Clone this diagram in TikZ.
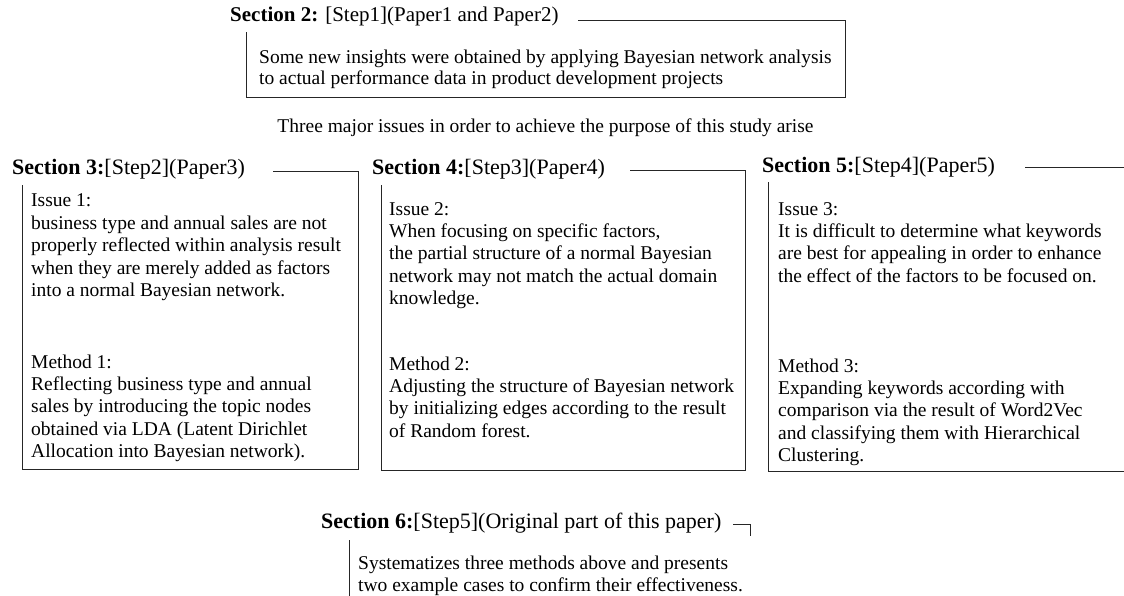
\documentclass[tikz,border=0pt]{standalone}
\usepackage{fontspec}
\setmainfont{Liberation Serif}
\newcommand\bodyfont{\fontsize{19.5}{22.4}\selectfont}
\newcommand\headfont{\fontsize{22}{25}\selectfont}
\tikzset{
  head/.style={anchor=base west, inner sep=0pt, font=\headfont},
  body/.style={anchor=base west, inner sep=0pt, font=\bodyfont},
  frame/.style={draw=black!85, line width=1pt},
}
\begin{document}
\begin{tikzpicture}[x=1pt, y=-1pt]
\useasboundingbox (0,0) rectangle (1124,596);

% Section 2 block
\node[head, font=\fontsize{21}{24}\selectfont] (t2) at (230,22) {\textbf{Section 2:} [Step1](Paper1 and Paper2)};
\node[body, font=\fontsize{19.5}{20.5}\selectfont] (b2) at (259,64) {\vtop{\hbox{Some new insights were obtained by applying Bayesian network analysis}\hbox{to actual performance data in product development projects}}};
\draw[frame] (578,21) -- (845,21) -- (845,98) -- (246,98) -- (246,32);

% Statement between the two rows
\node[anchor=base, inner sep=0pt, font=\bodyfont] (mid) at (545.5,133) {Three major issues in order to achieve the purpose of this study arise};

% Section 3 block
\node[head] (t3) at (12,175) {\textbf{Section 3:}[Step2](Paper3)};
\node[body] (i1) at (31,207) {\vtop{\hbox{Issue 1:}\hbox{business type and annual sales are not}\hbox{properly reflected within analysis result}\hbox{when they are merely added as factors}\hbox{into a normal Bayesian network.}}};
\node[body] (m1) at (31,368) {\vtop{\hbox{Method 1:}\hbox{Reflecting business type and annual}\hbox{sales by introducing the topic nodes}\hbox{obtained via LDA (Latent Dirichlet}\hbox{Allocation into Bayesian network).}}};
\draw[frame] (273,172) -- (358,172) -- (358,469) -- (22,469) -- (22,185);

% Section 4 block
\node[head] (t4) at (372,175) {\textbf{Section 4:}[Step3](Paper4)};
\node[body] (i2) at (389,215) {\vtop{\hbox{Issue 2:}\hbox{When focusing on specific factors,}\hbox{the partial structure of a normal Bayesian}\hbox{network may not match the actual domain}\hbox{knowledge.}}};
\node[body] (m2) at (389,370) {\vtop{\hbox{Method 2:}\hbox{Adjusting the structure of Bayesian network}\hbox{by initializing edges according to the result}\hbox{of Random forest.}}};
\draw[frame] (630,171) -- (745,171) -- (745,470) -- (381,470) -- (381,185);

% Section 5 block (runs past the right margin)
\node[head] (t5) at (762,173) {\textbf{Section 5:}[Step4](Paper5)};
\node[body] (i3) at (778,215) {\vtop{\hbox{Issue 3:}\hbox{It is difficult to determine what keywords}\hbox{are best for appealing in order to enhance}\hbox{the effect of the factors to be focused on.}}};
\node[body] (m3) at (778,372) {\vtop{\hbox{Method 3:}\hbox{Expanding keywords according with}\hbox{comparison via the result of Word2Vec}\hbox{and classifying them with Hierarchical}\hbox{Clustering.}}};
\draw[frame] (1025,168) -- (1124,168);
\draw[frame] (1124,471) -- (768,471) -- (768,182);

% Section 6 block (runs past the bottom margin)
\node[head] (t6) at (321,528) {\textbf{Section 6:}[Step5](Original part of this paper)};
\node[body, font=\fontsize{19.5}{22}\selectfont] (b6) at (358,569) {\vtop{\hbox{Systematizes three methods above and presents}\hbox{two example cases to confirm their effectiveness.}}};
\draw[frame] (733,524) -- (750,524) -- (750,536);
\draw[frame] (349,540) -- (349,596);
\end{tikzpicture}
\end{document}
